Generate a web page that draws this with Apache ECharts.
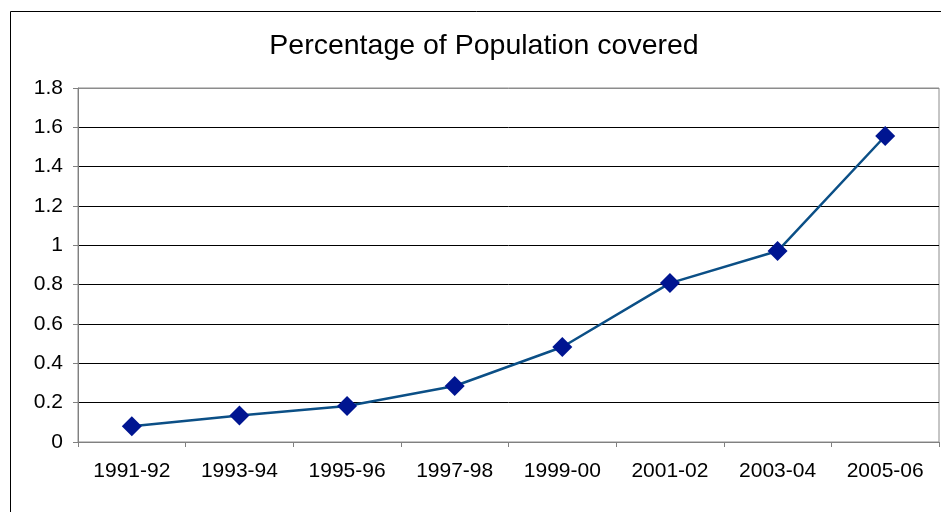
<!DOCTYPE html>
<html>
<head>
<meta charset="utf-8">
<script src="https://cdn.jsdelivr.net/npm/echarts@6/dist/echarts.min.js"></script>
<style>
  html, body { margin: 0; padding: 0; background: #fff; }
  #chart { width: 941px; height: 512px; }
</style>
</head>
<body>
<div id="chart"></div>
<script>
  // data
  var years = ['1991-92', '1993-94', '1995-96', '1997-98', '1999-00', '2001-02', '2003-04', '2005-06'];
  var coverage = [0.08, 0.135, 0.183, 0.285, 0.483, 0.808, 0.971, 1.556];
  var yMin = 0, yMax = 1.8, yStep = 0.2;

  var font = '"Liberation Sans", Arial, sans-serif';
  var chart = echarts.init(document.getElementById('chart'));

  // grid line colours: top one is the grey plot border
  var splitColors = [];
  for (var i = 0; i < 10; i++) {
    splitColors.push(i === 9 ? '#8c8c8c' : '#000000');
  }

  var option = {
    animation: false,
    backgroundColor: '#ffffff',
    graphic: [{
      type: 'rect',
      shape: { x: 10.5, y: 11.5, width: 1000, height: 1000 },
      style: { fill: 'none', stroke: '#000000', lineWidth: 1 },
      z: 100
    }],
    title: {
      text: 'Percentage of Population covered',
      left: 479,
      top: 27,
      textAlign: 'center',
      textStyle: { fontFamily: font, fontSize: 28.5, fontWeight: 'normal', color: '#000' }
    },
    grid: {
      left: 78, top: 88, right: 2, bottom: 70,
      show: true,
      borderColor: '#8c8c8c',
      borderWidth: 1,
      backgroundColor: '#fff'
    },
    xAxis: {
      type: 'category',
      data: years,
      boundaryGap: true,
      axisLine: { lineStyle: { color: '#808080', width: 1 } },
      axisTick: { show: true, length: 5, lineStyle: { color: '#808080' } },
      axisLabel: { fontFamily: font, fontSize: 21, color: '#000', margin: 19 },
      splitLine: { show: false }
    },
    yAxis: {
      type: 'value',
      min: yMin,
      max: yMax,
      interval: yStep,
      axisLine: { show: true, lineStyle: { color: '#808080', width: 1 } },
      axisTick: { show: true, length: 5, lineStyle: { color: '#808080' } },
      axisLabel: { fontFamily: font, fontSize: 21, color: '#000', margin: 15 },
      splitLine: { show: true, lineStyle: { color: splitColors, width: 1 } }
    },
    series: [{
      type: 'line',
      data: coverage,
      symbol: 'diamond',
      symbolSize: 20,
      showAllSymbol: true,
      lineStyle: { color: '#0b4f86', width: 2.5 },
      itemStyle: { color: '#001591', borderWidth: 0 }
    }]
  };

  chart.setOption(option);
</script>
</body>
</html>
